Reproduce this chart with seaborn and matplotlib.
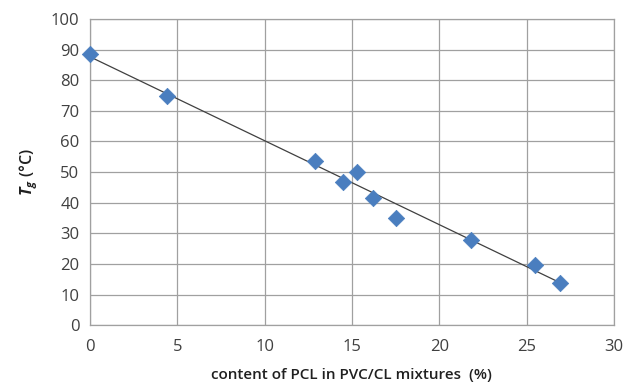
import numpy as np
import pandas as pd
import matplotlib.pyplot as plt
import seaborn as sns

# data
pcl_content = [0.0, 4.4, 12.9, 14.5, 15.3, 16.2, 17.5, 21.8, 25.5, 26.9]
tg_values = [88.6, 74.7, 53.7, 46.8, 50.0, 41.6, 34.9, 27.8, 19.8, 13.8]

df = pd.DataFrame({"pcl": pcl_content, "tg": tg_values})

# linear trend line
slope, intercept = np.polyfit(df["pcl"], df["tg"], 1)
trend = pd.DataFrame({"pcl": [0.0, max(pcl_content)]})
trend["tg"] = intercept + slope * trend["pcl"]

sns.set_style("white")
plt.rcParams["font.family"] = ["Open Sans", "DejaVu Sans"]
plt.rcParams["mathtext.fontset"] = "custom"
plt.rcParams["mathtext.bfit"] = "Open Sans:italic:bold"

fig = plt.figure(figsize=(6.29, 3.88), dpi=100)
ax = fig.add_axes([0.143, 0.162, 0.833, 0.789])

grid_col = "#a0a0a0"
ax.set_xlim(0, 30)
ax.set_ylim(0, 100)
ax.set_xticks(range(0, 31, 5))
ax.set_yticks(range(0, 101, 10))
ax.grid(True, color=grid_col, linewidth=0.9)
ax.set_axisbelow(True)
for s in ax.spines.values():
    s.set_color(grid_col)
    s.set_linewidth(0.9)

sns.lineplot(data=trend, x="pcl", y="tg", ax=ax, color="#404040", linewidth=0.9)
sns.scatterplot(data=df, x="pcl", y="tg", ax=ax, marker="D", s=70,
                color="#4a7ebf", edgecolor="#4a7ebf", linewidth=0.5, zorder=3,
                clip_on=False)

ax.tick_params(axis="both", colors=grid_col, labelcolor="#404040",
               labelsize=12, length=4, direction="out")
ax.tick_params(axis="x", pad=6)
ax.set_xlabel("content of PCL in PVC/CL mixtures  (%)", fontsize=11,
              fontweight="semibold", color="#202020", labelpad=9)
ax.set_ylabel(r"$\mathbfit{T}_\mathbfit{g}$ (°C)", fontsize=11.5, fontweight="semibold",
              color="#202020", labelpad=8)

fig.savefig("out.png", dpi=100)
